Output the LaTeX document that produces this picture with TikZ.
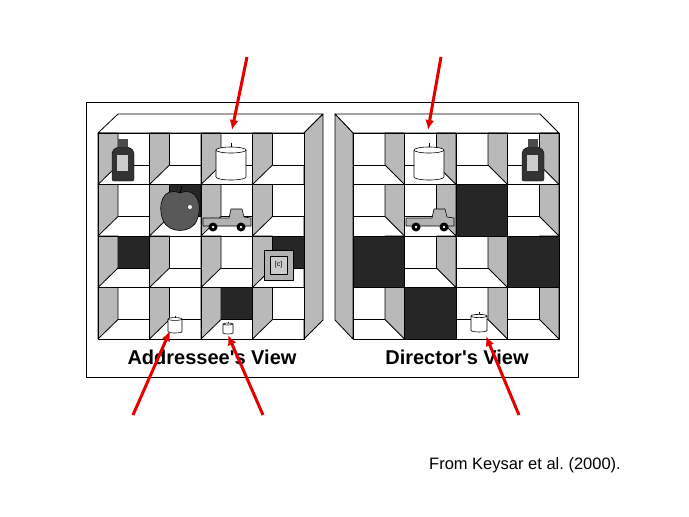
\documentclass[tikz,border=0pt]{standalone}
\usepackage{fontspec}
\setmainfont{Liberation Sans}
\usepackage{textcomp}
\frenchspacing
\begin{document}
\begin{tikzpicture}[x=1pt,y=-1pt,line join=round,
  ln/.style={draw=black,line width=0.8pt},
  wall/.style={ln,fill=gray!55},
  redarrow/.style={draw=red!90!black,line width=3pt,-{Latex[length=10pt,width=9pt]}}]
\usetikzlibrary{arrows.meta}
\useasboundingbox (0,0) rectangle (689,517);
\def\cs{51.5}
% frame
\draw[line width=0.8pt] (86,102) rectangle (578,377);
% ---------- left shelf ----------
\draw[ln,fill=white] (98,133) -- (118,114) -- (323,114) -- (304,133) -- cycle;
\draw[wall] (304,133) -- (323,114) -- (323,320) -- (304,339) -- cycle;
\newcommand\lcell[3]{%
  \fill[#3] ({#1+20},#2) rectangle ({#1+\cs},{#2+32});
  \draw[wall] (#1,#2) -- ({#1+20},#2) -- ({#1+20},{#2+32}) -- (#1,{#2+\cs}) -- cycle;
  \draw[ln] ({#1+20},{#2+32}) -- ({#1+\cs},{#2+32});
  \draw[ln] (#1,#2) rectangle ({#1+\cs},{#2+\cs});}
\foreach \c in {0,1,2,3}{\foreach \r in {0,1,2,3}{
  \pgfmathsetmacro\xx{98+\c*\cs}\pgfmathsetmacro\yy{133+\r*\cs}
  \edef\col{white}
  \ifnum\c\r=2 \edef\col{black!85}\fi
  \ifnum\c\r=11 \edef\col{black!85}\fi
  \ifnum\c\r=32 \edef\col{black!85}\fi
  \ifnum\c\r=23 \edef\col{black!85}\fi
  \lcell{\xx}{\yy}{\col}}}
% ---------- right shelf ----------
\draw[ln,fill=white] (353,133) -- (335,114) -- (540,114) -- (559,133) -- cycle;
\draw[wall] (353,133) -- (335,114) -- (335,320) -- (353,339) -- cycle;
\newcommand\rcell[3]{%
  \draw[wall] ({#1+\cs},#2) -- ({#1+32},#2) -- ({#1+32},{#2+32}) -- ({#1+\cs},{#2+\cs}) -- cycle;
  \draw[ln] (#1,{#2+32}) -- ({#1+32},{#2+32});
  \draw[ln] (#1,#2) rectangle ({#1+\cs},{#2+\cs});}
\foreach \c in {0,1,2,3}{\foreach \r in {0,1,2,3}{
  \pgfmathsetmacro\xx{353+\c*\cs}\pgfmathsetmacro\yy{133+\r*\cs}
  \rcell{\xx}{\yy}{}}}
\foreach \c/\r in {2/1,0/2,3/2,1/3}{
  \fill[black!85,draw=black] ({353+\c*\cs},{133+\r*\cs}) rectangle ++(\cs,\cs);}
% ---------- objects ----------
\newcommand\bottle[2]{%
  \draw[fill=black!80,rounded corners=2pt] ({#1-11},{#2}) -- ({#1-11},{#2-30}) -- ({#1-6},{#2-34}) -- ({#1+6},{#2-34}) -- ({#1+11},{#2-30}) -- ({#1+11},{#2}) -- cycle;
  \fill[black!70] ({#1-5},{#2-34}) rectangle ({#1+5},{#2-42});
  \fill[gray!40] ({#1-6},{#2-26}) rectangle ({#1+5},{#2-10});}
\newcommand\candle[3]{%
  \draw[fill=white,line width=0.6pt] ({#1-#3},{#2-2*#3}) -- ({#1-#3},{#2-0.2*#3}) arc[start angle=180,end angle=0,x radius=#3,y radius=0.2*#3] -- ({#1+#3},{#2-2*#3});
  \draw[fill=white,line width=0.6pt] (#1,{#2-2*#3}) ellipse[x radius=#3,y radius=0.2*#3];
  \draw[line width=0.6pt] (#1,{#2-2.2*#3}) -- (#1,{#2-2.5*#3});}
\newcommand\truck[2]{%
  \draw[fill=gray!60,line width=0.6pt] ({#1-24},{#2-4}) -- ({#1-24},{#2-12}) -- ({#1+2},{#2-12}) -- ({#1+4},{#2-21}) -- ({#1+15},{#2-21}) -- ({#1+17},{#2-13}) -- ({#1+24},{#2-12}) -- ({#1+24},{#2-4}) -- cycle;
  \fill[black] ({#1-14},{#2-3}) circle (4.5) ({#1+14},{#2-3}) circle (4.5);
  \fill[white] ({#1-14},{#2-3}) circle (1.3) ({#1+14},{#2-3}) circle (1.3);}
% left
\bottle{123}{181}
\candle{231}{180}{15}
\draw[fill=black!65,line width=0.6pt] (180,193) .. controls (163,186) and (157,205) .. (163,220) .. controls (168,234) and (192,234) .. (197,220) .. controls (203,205) and (197,186) .. (180,193) -- cycle;
\draw[line width=0.8pt] (180,193) -- (182,186);
\fill[white] (190,207) circle (2);
\truck{227}{230}
\draw[fill=gray!60,line width=0.6pt] (264,250) rectangle (293,280);
\draw[fill=gray!40] (270,256) rectangle (287,274);
\node[font=\scriptsize] (blk) at (278.5,265) {[c]};
\candle{175}{333}{7}
\candle{228}{334}{5}
% right
\candle{429}{180}{15}
\bottle{533}{181}
\truck{430}{230}
\candle{479}{332}{8}
% ---------- labels ----------
\node[font=\bfseries\fontsize{20}{20}\selectfont] (la) at (212,357) {Addressee\textquotesingle s View};
\node[font=\bfseries\fontsize{20}{20}\selectfont] (lb) at (457,357) {Director\textquotesingle s View};
\node[font=\fontsize{16.5}{16.5}\selectfont] (src) at (525,465) {From Keysar et al. (2000).};
% ---------- arrows ----------
\coordinate (a1s) at (247,57); \coordinate (a1e) at (232,130);
\coordinate (a2s) at (441,57); \coordinate (a2e) at (428,130);
\coordinate (a3s) at (133,415); \coordinate (a3e) at (170,331);
\coordinate (a4s) at (263,415); \coordinate (a4e) at (228,335);
\coordinate (a5s) at (519,415); \coordinate (a5e) at (486,336);
\foreach \i in {1,...,5}{\draw[redarrow] (a\i s) -- (a\i e);}
\end{tikzpicture}
\end{document}
